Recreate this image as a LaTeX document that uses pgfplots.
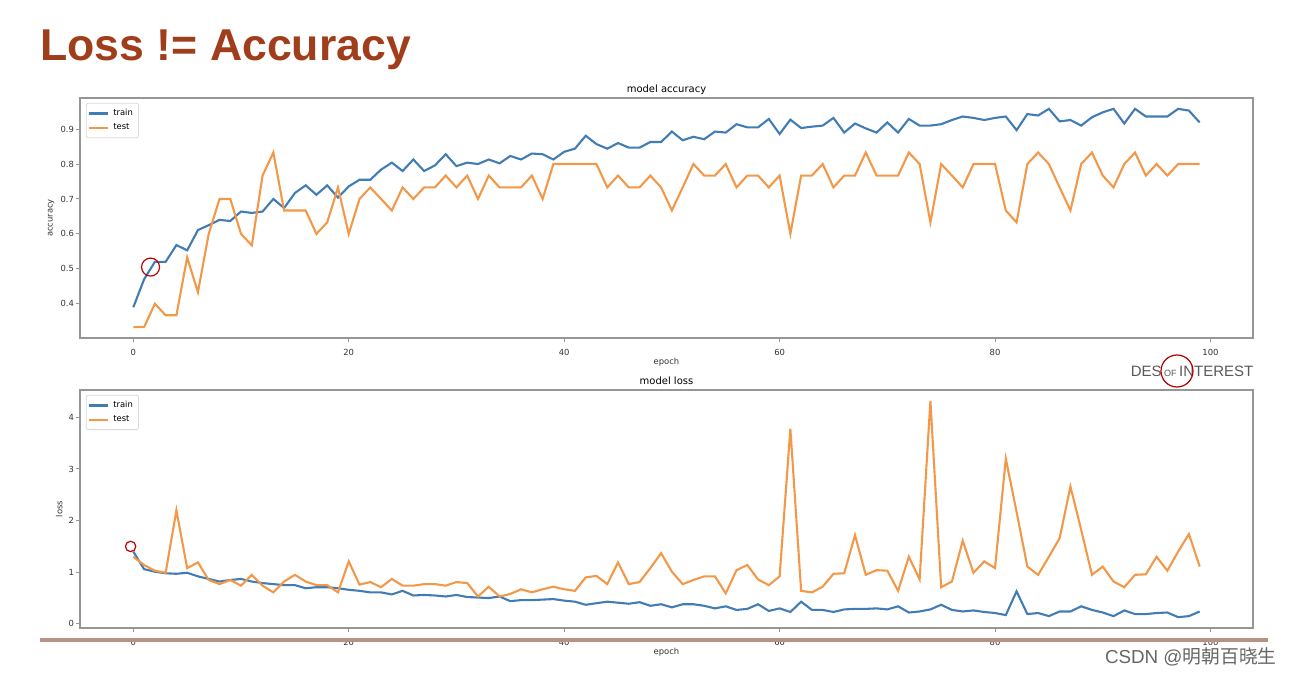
\documentclass[border=0pt]{standalone}
\usepackage{fontspec}
\setmainfont{DejaVu Sans}
\newfontfamily\arial{Liberation Sans}
\newfontfamily\cjk{Noto Sans CJK SC}
\usepackage{pgfplots}
\usepackage{pgfplotstable}
\pgfplotsset{compat=1.18}

\definecolor{trainblue}{RGB}{66,124,180}
\definecolor{testorange}{RGB}{242,152,72}
\definecolor{slidetitle}{RGB}{160,62,28}
\definecolor{framegray}{RGB}{150,150,150}
\definecolor{rule}{RGB}{185,145,130}

% epoch, train, test
\pgfplotstableread{
e tr te
0 0.390 0.333
1 0.470 0.333
2 0.520 0.400
3 0.520 0.367
4 0.568 0.367
5 0.553 0.533
6 0.611 0.433
7 0.625 0.600
8 0.640 0.700
9 0.637 0.700
10 0.664 0.600
11 0.660 0.567
12 0.664 0.767
13 0.700 0.833
14 0.674 0.667
15 0.717 0.667
16 0.739 0.667
17 0.712 0.600
18 0.739 0.633
19 0.704 0.733
20 0.736 0.600
21 0.755 0.700
22 0.755 0.733
23 0.784 0.700
24 0.804 0.667
25 0.780 0.733
26 0.813 0.700
27 0.780 0.733
28 0.796 0.733
29 0.828 0.767
30 0.794 0.733
31 0.804 0.767
32 0.800 0.700
33 0.813 0.767
34 0.802 0.733
35 0.823 0.733
36 0.813 0.733
37 0.830 0.767
38 0.828 0.700
39 0.813 0.800
40 0.835 0.800
41 0.844 0.800
42 0.881 0.800
43 0.857 0.800
44 0.844 0.733
45 0.860 0.767
46 0.847 0.733
47 0.847 0.733
48 0.863 0.767
49 0.863 0.733
50 0.893 0.667
51 0.868 0.733
52 0.878 0.800
53 0.871 0.767
54 0.893 0.767
55 0.890 0.800
56 0.914 0.733
57 0.905 0.767
58 0.905 0.767
59 0.929 0.733
60 0.886 0.767
61 0.927 0.600
62 0.903 0.767
63 0.907 0.767
64 0.910 0.800
65 0.932 0.733
66 0.890 0.767
67 0.916 0.767
68 0.902 0.833
69 0.890 0.767
70 0.919 0.767
71 0.890 0.767
72 0.929 0.833
73 0.910 0.800
74 0.910 0.633
75 0.914 0.800
76 0.926 0.767
77 0.936 0.733
78 0.932 0.800
79 0.926 0.800
80 0.932 0.800
81 0.936 0.667
82 0.897 0.633
83 0.943 0.800
84 0.939 0.833
85 0.958 0.800
86 0.922 0.733
87 0.926 0.667
88 0.910 0.800
89 0.934 0.833
90 0.948 0.767
91 0.958 0.733
92 0.916 0.800
93 0.958 0.833
94 0.936 0.767
95 0.936 0.800
96 0.936 0.767
97 0.958 0.800
98 0.953 0.800
99 0.919 0.800
}\acctable

\pgfplotstableread{
e tr te
0 1.40 1.30
1 1.06 1.14
2 1.01 1.03
3 0.98 0.99
4 0.97 2.20
5 0.99 1.08
6 0.92 1.19
7 0.87 0.85
8 0.82 0.77
9 0.85 0.85
10 0.87 0.74
11 0.82 0.95
12 0.79 0.74
13 0.77 0.61
14 0.75 0.82
15 0.75 0.95
16 0.69 0.82
17 0.71 0.75
18 0.71 0.75
19 0.69 0.61
20 0.66 1.21
21 0.64 0.76
22 0.61 0.81
23 0.61 0.71
24 0.57 0.87
25 0.64 0.74
26 0.55 0.74
27 0.56 0.77
28 0.55 0.77
29 0.53 0.74
30 0.56 0.81
31 0.52 0.79
32 0.51 0.53
33 0.50 0.72
34 0.53 0.53
35 0.44 0.58
36 0.46 0.67
37 0.46 0.61
38 0.47 0.67
39 0.48 0.72
40 0.45 0.67
41 0.43 0.64
42 0.37 0.90
43 0.40 0.93
44 0.43 0.77
45 0.41 1.19
46 0.39 0.77
47 0.42 0.81
48 0.35 1.08
49 0.38 1.37
50 0.32 1.01
51 0.38 0.77
52 0.38 0.85
53 0.35 0.92
54 0.30 0.92
55 0.34 0.59
56 0.27 1.04
57 0.29 1.14
58 0.38 0.86
59 0.25 0.75
60 0.30 0.92
61 0.23 3.78
62 0.43 0.64
63 0.27 0.61
64 0.27 0.72
65 0.23 0.97
66 0.28 0.98
67 0.29 1.72
68 0.29 0.95
69 0.30 1.04
70 0.28 1.03
71 0.34 0.64
72 0.22 1.30
73 0.24 0.86
74 0.28 4.32
75 0.37 0.71
76 0.27 0.82
77 0.24 1.61
78 0.26 0.99
79 0.23 1.21
80 0.21 1.08
81 0.17 3.20
82 0.63 2.17
83 0.19 1.11
84 0.21 0.95
85 0.15 1.30
86 0.24 1.66
87 0.24 2.66
88 0.34 1.82
89 0.27 0.95
90 0.22 1.11
91 0.15 0.82
92 0.26 0.71
93 0.19 0.95
94 0.19 0.96
95 0.21 1.30
96 0.22 1.03
97 0.13 1.40
98 0.15 1.74
99 0.24 1.11
}\losstable

\pgfplotsset{
  slideplot/.style={
    scale only axis, width=586.5pt,
    xmin=-4.95, xmax=103.95,
    xtick={0,20,...,100},
    axis line style={framegray, line width=1.1pt},
    tick style={framegray, line width=0.5pt},
    tick align=outside, tick pos=left, major tick length=2pt,
    tick label style={font=\fontsize{4.2}{5}\selectfont, text=black!80},
    yticklabel style={xshift=2.5pt},
    label style={font=\fontsize{4.2}{5}\selectfont, text=black!80},
    xlabel={epoch}, xlabel shift=-5.5pt, ylabel shift=-3.8pt,
    every axis title/.style={font=\fontsize{5}{6}\selectfont,
      at={(0.5,1)}, anchor=base, yshift=2.6pt, inner sep=0pt},
    legend style={at={(0.005,0.98)}, anchor=north west,
      font=\fontsize{4.2}{5}\selectfont, draw=black!15, rounded corners=1pt,
      inner sep=0.8pt, row sep=-1.5pt},
    legend cell align=left,
    legend image code/.code={\draw[#1] (0cm,0cm) -- (0.34cm,0cm);},
    /pgf/number format/assume math mode=true,
    every axis plot/.append style={line width=1.05pt, no markers},
  }
}

\begin{document}
\begin{tikzpicture}
\path[use as bounding box] (0,0) rectangle (646pt,338pt);

\node[anchor=base west, inner sep=0pt, text=slidetitle,
  font=\arial\bfseries\fontsize{22.3}{24}\selectfont] at (20pt,307.5pt) {Loss != Accuracy};

\begin{axis}[slideplot,
  at={(40pt,169pt)}, anchor=south west, height=120pt,
  ymin=0.302, ymax=0.989,
  ytick={0.4,0.5,0.6,0.7,0.8,0.9},
  yticklabel style={/pgf/number format/.cd, fixed, fixed zerofill, precision=1},
  title={model accuracy}, ylabel={accuracy}]
\addplot[trainblue] table[x=e, y=tr] {\acctable};
\addlegendentry{train}
\addplot[testorange] table[x=e, y=te] {\acctable};
\addlegendentry{test}
\draw[red!75!black, line width=0.6pt] (axis cs:1.6,0.505) circle[radius=4.5pt];
\end{axis}

\begin{axis}[slideplot,
  at={(40pt,24pt)}, anchor=south west, height=119pt,
  ymin=-0.08, ymax=4.53,
  ytick={0,1,2,3,4},
  title={model loss}, ylabel={loss}]
\addplot[trainblue] table[x=e, y=tr] {\losstable};
\addlegendentry{train}
\addplot[testorange] table[x=e, y=te] {\losstable};
\addlegendentry{test}
\draw[red!75!black, line width=0.6pt] (axis cs:-0.25,1.5) circle[radius=2.6pt];
\end{axis}

\draw[rule, line width=1.6pt] (20pt,18pt) -- (634pt,18pt);

\node[text=black!65, inner sep=0pt, font=\arial\fontsize{7.5}{8}\selectfont] at (596pt,152.5pt)
  {DES\,{\fontsize{4.5}{5}\selectfont OF}\,INTEREST};
\draw[red!70!black, line width=0.6pt] (588.5pt,152.5pt) circle[radius=8pt];

\node[anchor=east, inner sep=0pt, text=black!60, font=\arial\fontsize{9.4}{10}\selectfont] at (638.5pt,9.5pt)
  {CSDN @{\cjk 明朝百晓生}};
\end{tikzpicture}
\end{document}
